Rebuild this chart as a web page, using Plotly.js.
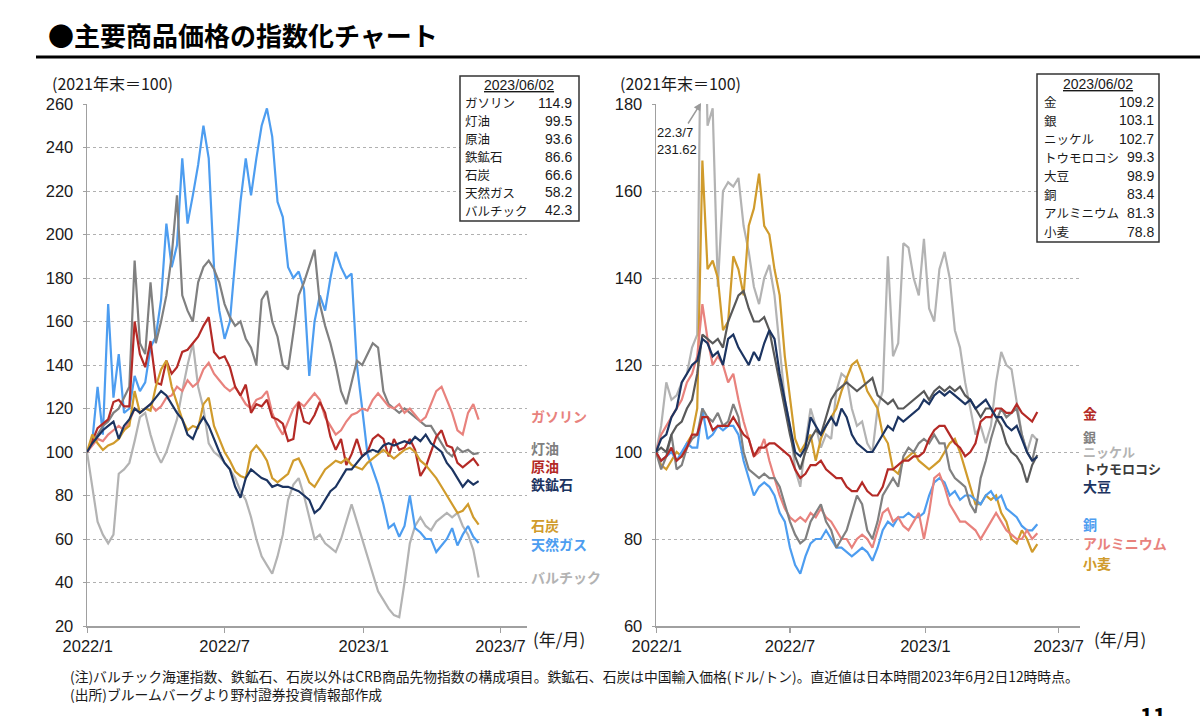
<!DOCTYPE html>
<html>
<head>
<meta charset="utf-8">
<script src="https://cdn.plot.ly/plotly-3.0.1.min.js"></script>
<style>
  html, body { margin: 0; padding: 0; background: #fff; }
  #chart { width: 1200px; height: 716px; }
</style>
</head>
<body>
<div id="chart"></div>
<script>
// weekly (Friday) index values, 2021-12-31 = 100, last point 2023-06-02
const start_day = "2021-12-31";
const n_weeks = 75;

// left chart: energy / bulk
const gasoline = [100,103,106,105,108,110,112,110,114,120,118,120,122,119,121,125,126,130,128,133,130,132,138,141,136,133,130,128,130,126,122,120,124,125,128,118,112,108,114,120,123,121,124,127,124,116,112,108,110,114,117,118,120,119,124,127,124,121,120,122,118,120,117,114,116,122,128,130,124,118,110,108,118,122,114.9];
const heating_oil = [100,104,108,112,114,118,120,125,130,188,150,145,178,150,160,172,190,218,172,165,160,178,185,188,184,178,168,162,158,160,152,148,140,170,174,160,153,140,138,155,172,178,185,193,168,158,150,140,128,122,132,142,140,145,150,148,128,122,120,118,120,118,116,114,112,112,108,104,100,98,102,100,101,99,99.5];
const crude = [100,105,111,113,115,123,124,121,121,160,145,139,151,132,131,142,136,139,146,147,150,153,158,162,146,143,144,139,130,126,131,118,122,121,124,116,115,113,105,106,123,114,113,117,123,118,107,101,106,94,99,106,98,100,106,108,106,98,106,101,102,106,101,89,93,100,107,110,103,102,95,93,95,97,93.6];
const iron_ore = [100,104,107,110,112,114,106,112,115,120,118,120,122,125,128,126,122,118,115,108,106,112,116,112,106,100,95,92,84,79,88,92,90,88,87,84,85,84,84,83,82,80,78,72,74,78,82,84,88,92,92,95,98,100,101,100,103,104,103,104,105,104,107,105,108,104,102,100,95,92,88,84,87,85,86.6];
const coal = [100,108,104,101,103,104,106,110,112,128,118,120,119,130,138,142,130,122,115,110,112,111,122,125,112,106,100,96,91,89,88,100,103,100,96,88,86,88,90,96,97,92,86,84,88,92,94,96,95,97,94,93,92,95,97,99,101,99,97,99,101,102,100,96,94,91,88,84,80,76,72,73,76,70,66.6];
const nat_gas = [100,105,130,108,168,125,145,118,120,135,128,132,148,153,170,205,185,195,235,205,218,232,250,235,185,165,152,160,188,215,235,218,235,250,258,245,215,208,185,180,183,175,135,160,172,165,180,192,185,180,182,140,120,99,92,85,76,65,67,61,66,80,65,63,60,60,54,57,60,65,57,62,66,61,58.2];
const baltic = [100,85,68,62,58,62,90,92,95,105,116,118,108,100,95,100,108,115,128,140,150,130,120,104,100,98,95,92,88,82,78,70,60,52,48,44,52,62,78,85,88,80,70,60,62,58,56,54,60,68,76,68,60,52,45,36,32,28,25,24,40,58,66,70,66,64,68,70,72,70,72,66,62,55,42.3];

// right chart: metals / grains
const gold = [100,98,99,101,98,99,101,104,104,108,108,105,106,106,106,108,106,104,103,99,101,101,102,102,101,100,99,96,94,95,97,97,98,96,95,94,94,92,91,91,93,91,90,90,92,96,96,97,98,98,99,99,100,103,105,106,106,104,102,101,99,100,102,107,108,108,110,110,109,109,111,109,108,107,109.2];
const silver = [100,96,99,104,96,97,101,103,104,110,108,107,109,106,107,111,108,100,96,95,94,95,94,94,92,88,84,81,79,80,84,86,88,84,82,78,80,82,86,90,88,82,80,84,90,92,94,92,99,101,100,102,103,102,104,102,102,96,94,93,92,88,86,94,98,103,107,110,108,109,110,104,100,98,103.1];
const nickel = [100,106,116,112,113,116,118,124,127,231.62,175,179,138,160,162,161,163,152,146,138,134,140,143,136,124,112,106,96,92,102,110,106,101,104,103,114,118,117,110,106,107,102,100,110,114,145,122,125,148,147,140,136,149,133,130,142,146,140,128,124,116,110,104,106,102,106,116,123,120,119,112,104,100,104,102.7];
const corn = [100,101,100,104,106,107,110,112,118,127,126,125,126,124,130,133,136,137,133,130,130,131,128,122,116,110,104,99,96,100,103,105,104,108,112,114,115,116,115,114,115,116,117,113,112,111,112,110,110,111,112,113,114,112,114,115,114,115,114,115,113,112,110,108,110,110,108,106,102,100,99,97,93,97,99.3];
const soybean = [100,103,104,108,110,116,118,120,121,126,125,122,123,120,126,127,124,122,120,123,121,125,128,126,118,112,106,100,99,101,108,106,104,106,108,106,110,108,104,102,101,100,100,102,104,106,105,108,107,108,109,110,112,111,113,114,113,114,113,112,111,112,110,111,112,110,108,108,106,105,106,103,100,98,98.9];
const copper = [100,98,99,100,98,100,102,101,101,110,103,104,106,105,106,106,104,98,94,90,92,93,92,90,86,84,78,74,72,76,79,80,80,82,80,78,78,77,76,77,78,77,75,78,82,84,83,85,85,86,85,85,86,90,93,94,93,90,91,89,90,90,89,88,90,91,89,90,87,86,85,83,82,82,83.4];
const aluminium = [100,104,106,108,110,112,116,118,122,134,126,120,122,120,116,118,112,107,103,99,100,103,98,94,90,87,85,84,85,84,86,85,87,85,84,82,80,80,78,80,81,80,78,82,86,87,84,85,83,82,84,86,80,86,94,95,92,88,86,84,84,83,82,80,82,84,86,84,82,81,80,80,82,80,81.3];
const wheat = [100,97,96,98,100,99,102,104,110,167,142,144,140,128,130,145,142,136,152,156,164,152,150,142,136,122,112,103,100,102,104,98,103,106,108,110,114,117,120,121,118,114,112,110,104,102,96,95,98,99,100,98,97,96,97,98,100,102,103,100,96,92,88,88,90,89,90,86,84,80,79,82,80,77,78.8];

const left_names = ["ガソリン","灯油","原油","鉄鉱石","石炭","天然ガス","バルチック"];
const left_last = ["114.9","99.5","93.6","86.6","66.6","58.2","42.3"];
const right_names = ["金","銀","ニッケル","トウモロコシ","大豆","銅","アルミニウム","小麦"];
const right_last = ["109.2","103.1","102.7","99.3","98.9","83.4","81.3","78.8"];
const tick_dates = ["2022-01-01","2022-07-01","2023-01-01","2023-07-01"];
const tick_text = ["2022/1","2022/7","2023/1","2023/7"];

const W = 1200, H = 716;
const FONT = "Liberation Sans, Arial, Noto Sans CJK JP, sans-serif";
const JP = "Noto Sans CJK JP, Liberation Sans, sans-serif";

const c_pink = "#e8827d", c_gray = "#808080", c_red = "#b42a26", c_navy = "#1c3461",
      c_gold = "#d09b2c", c_blue = "#4d9df0", c_light = "#b3b3b3", c_dark = "#595959";

let weeks = [];
for (let i = 0; i < n_weeks; i++) {
    let d = new Date(start_day + "T00:00:00Z");
    d.setUTCDate(d.getUTCDate() + 7 * i);
    weeks.push(d.toISOString().slice(0, 10));
}

function addLine(data, y, color, xa, ya, width) {
    data.push({ x: weeks, y: y, type: "scatter", mode: "lines", xaxis: xa, yaxis: ya,
        line: { color: color, width: width || 2.2 }, hoverinfo: "skip", showlegend: false });
    return data;
}

let data = [];
addLine(data, baltic, c_light, "x", "y");
addLine(data, nat_gas, c_blue, "x", "y");
addLine(data, heating_oil, c_gray, "x", "y");
addLine(data, gasoline, c_pink, "x", "y");
addLine(data, crude, c_red, "x", "y");
addLine(data, coal, c_gold, "x", "y");
addLine(data, iron_ore, c_navy, "x", "y");

addLine(data, nickel, c_light, "x2", "y2");
addLine(data, wheat, c_gold, "x2", "y2");
addLine(data, copper, c_blue, "x2", "y2");
addLine(data, aluminium, c_pink, "x2", "y2");
addLine(data, silver, c_gray, "x2", "y2");
addLine(data, gold, c_red, "x2", "y2");
addLine(data, corn, c_dark, "x2", "y2");
addLine(data, soybean, c_navy, "x2", "y2");

function px(x) { return x / W; }
function py(y) { return 1 - y / H; }

function xAxis(left, right, end) {
    return {
        domain: [px(left), px(right)], type: "date", range: ["2021-12-31", end],
        tickvals: tick_dates, ticktext: tick_text, showgrid: false, zeroline: false,
        showline: true, linecolor: "#a0a0a0", linewidth: 1.6,
        ticks: "outside", ticklen: 5, tickcolor: "#a0a0a0", tickwidth: 1.2,
        tickfont: { family: FONT, size: 16.5, color: "#1a1a1a" }
    };
}
function yAxis(lo, hi) {
    return {
        domain: [py(626), py(104)], range: [lo, hi], tick0: lo, dtick: 20,
        showline: true, linecolor: "#a0a0a0", linewidth: 1.4, zeroline: false,
        gridcolor: "#b0b0b0", griddash: "dot", gridwidth: 1,
        ticks: "outside", ticklen: 3, tickcolor: "#a0a0a0", ticklabelstandoff: 6,
        tickfont: { family: FONT, size: 16.5, color: "#1a1a1a" }
    };
}

let ann = [];
function text(t, x, y, opts) {
    opts = opts || {};
    ann.push({
        xref: "paper", yref: "paper", x: px(x), y: py(y), text: t, showarrow: false,
        xanchor: opts.anchor || "left", yanchor: "middle",
        font: { family: opts.family || JP, size: opts.size || 14, color: opts.color || "#1a1a1a" }
    });
}

text("<b>●主要商品価格の指数化チャート</b>", 46, 35, { size: 26, color: "#000" });
text("(2021年末＝100)", 50, 83, { size: 16 });
text("(2021年末＝100)", 618, 83, { size: 16 });
text("(年/月)", 531, 638, { size: 17 });
text("(年/月)", 1092, 638, { size: 17 });
text("(注)バルチック海運指数、鉄鉱石、石炭以外はCRB商品先物指数の構成項目。鉄鉱石、石炭は中国輸入価格(ドル/トン)。直近値は日本時間2023年6月2日12時時点。", 68, 676, { size: 13.8 });
text("(出所)ブルームバーグより野村證券投資情報部作成", 68, 694, { size: 13.8 });
text("<b>11</b>", 1153, 714, { size: 22, anchor: "center", color: "#000" });

// value boxes
text("<u>2023/06/02</u>", 519, 85, { size: 14, anchor: "center", family: FONT });
for (let i = 0; i < left_names.length; i++) {
    let y = 103 + i * 17.9;
    text(left_names[i], 463, y, { size: 12.5 });
    text(left_last[i], 574, y, { size: 14, anchor: "right", family: FONT });
}
text("<u>2023/06/02</u>", 1098, 84, { size: 14, anchor: "center", family: FONT });
for (let i = 0; i < right_names.length; i++) {
    let y = 102 + i * 18.5;
    text(right_names[i], 1042, y, { size: 12.5 });
    text(right_last[i], 1156, y, { size: 14, anchor: "right", family: FONT });
}

// series labels at right of each chart
const left_label_y = [416, 448, 466, 484, 525, 544, 577];
const left_label_c = [c_pink, c_gray, c_red, c_navy, c_gold, c_blue, c_light];
for (let i = 0; i < left_names.length; i++) {
    text("<b>" + left_names[i] + "</b>", 529, left_label_y[i], { size: 14, color: left_label_c[i] });
}
const right_label_y = [413, 436, 452, 468, 486, 524, 543, 563];
const right_label_s = [14, 13, 13, 13, 14, 14, 14, 14];
const right_label_c = [c_red, c_gray, c_light, "#3a3a3a", c_navy, c_blue, c_pink, c_gold];
for (let i = 0; i < right_names.length; i++) {
    text("<b>" + right_names[i] + "</b>", 1081, right_label_y[i], { size: right_label_s[i], color: right_label_c[i] });
}

// nickel spike note
ann.push({
    xref: "paper", yref: "paper", x: px(701), y: py(103), text: "22.3/7<br>231.62",
    showarrow: true, arrowhead: 2, arrowsize: 1, arrowwidth: 1.5, arrowcolor: "#9a9a9a",
    ax: -24, ay: 38, align: "left",
    font: { family: FONT, size: 13, color: "#1a1a1a" }
});

const layout = {
    width: W, height: H, margin: { l: 0, r: 0, t: 0, b: 0 },
    paper_bgcolor: "#fff", plot_bgcolor: "rgba(0,0,0,0)", showlegend: false,
    xaxis: Object.assign(xAxis(87, 527, "2023-08-05"), { anchor: "y" }),
    yaxis: Object.assign(yAxis(20, 260), { anchor: "x" }),
    xaxis2: Object.assign(xAxis(656, 1080, "2023-07-30"), { anchor: "y2" }),
    yaxis2: Object.assign(yAxis(60, 180), { anchor: "x2" }),
    annotations: ann,
    shapes: [
        { type: "line", xref: "paper", yref: "paper", x0: px(36), x1: px(1200), y0: py(57), y1: py(57),
          line: { color: "#000", width: 3 } },
        { type: "rect", xref: "paper", yref: "paper", x0: px(460), x1: px(579), y0: py(76), y1: py(221),
          line: { color: "#333", width: 1.5 }, fillcolor: "#fff" },
        { type: "rect", xref: "paper", yref: "paper", x0: px(1037), x1: px(1159), y0: py(74), y1: py(242),
          line: { color: "#333", width: 1.5 }, fillcolor: "#fff" }
    ]
};

Plotly.newPlot("chart", data, layout, { displayModeBar: false, staticPlot: true });
</script>
</body>
</html>
